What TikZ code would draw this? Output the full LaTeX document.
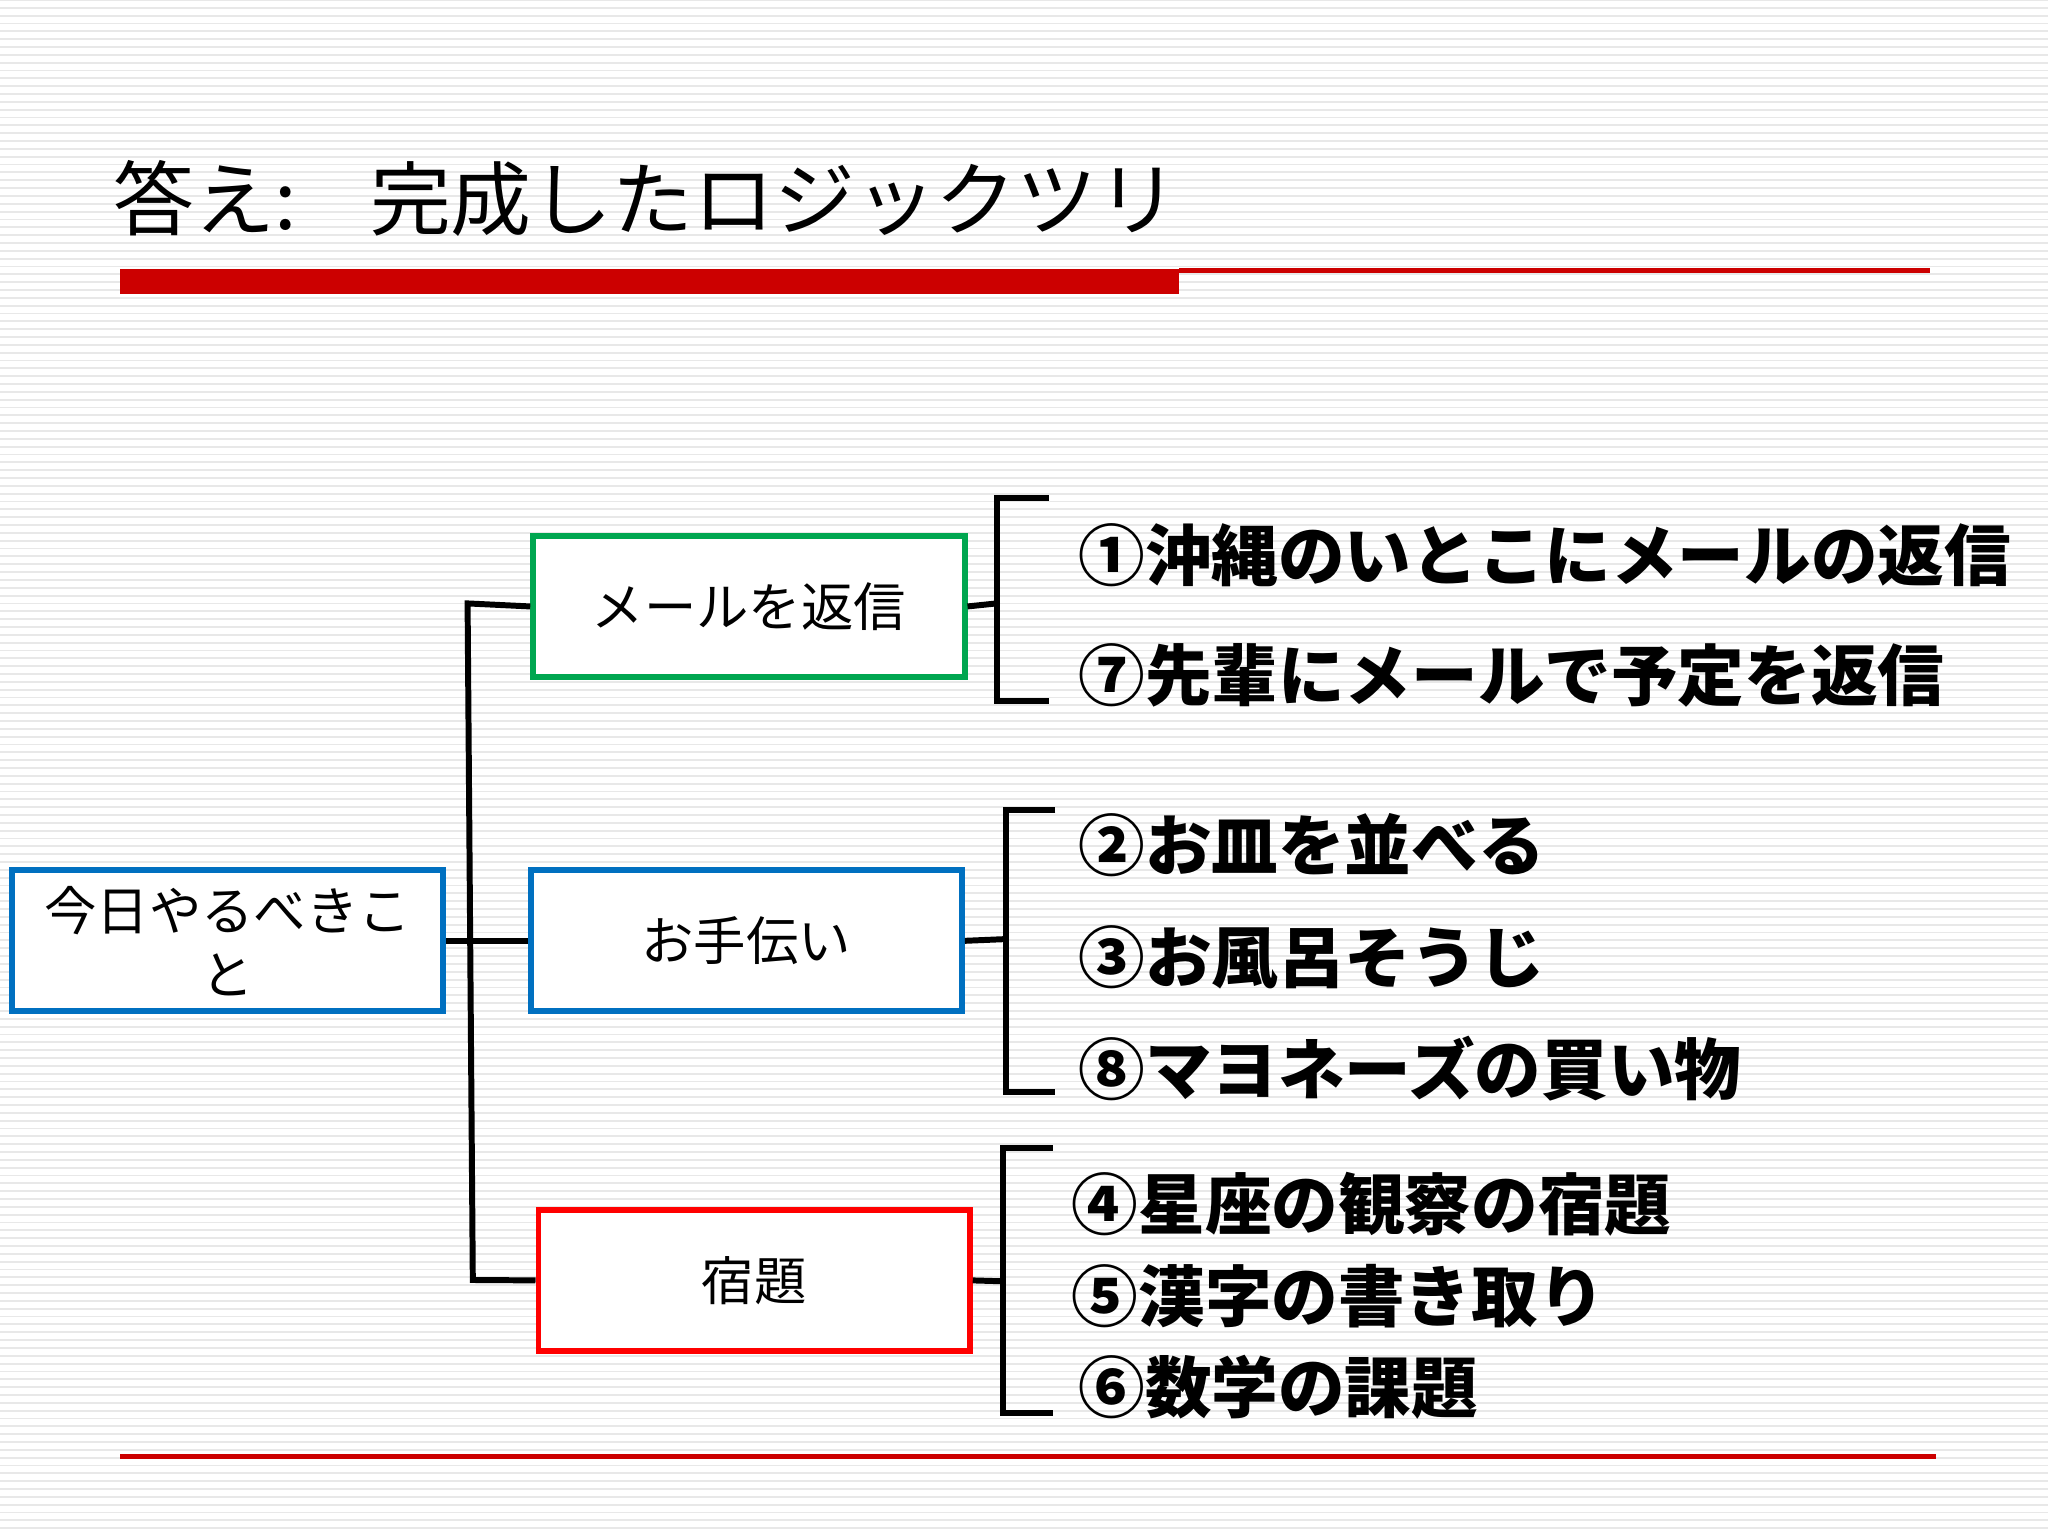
\documentclass[tikz,border=0pt]{standalone}
\usepackage{fontspec}
\newfontfamily\cjk{Noto Sans CJK JP}
\definecolor{bblue}{RGB}{0,112,192}
\definecolor{bgreen}{RGB}{0,166,80}
\begin{document}
\begin{tikzpicture}[x=0.01cm,y=-0.01cm,
 box/.style={draw,line width=1.3pt,minimum width=3.3cm,minimum height=1.08cm,anchor=north west,font=\cjk\fontsize{11.4}{14}\selectfont,align=center,fill=white},
 item/.style={anchor=west,font=\cjk\bfseries\fontsize{14.5}{16}\selectfont,inner sep=0pt},
 con/.style={line width=1.3pt,black}]
\useasboundingbox (0,0) rectangle (1568,1176);
\fill[white] (0,0) rectangle (1568,1176);
\foreach \i in {0,...,195}{\draw[gray!18,line width=0.4pt] (0,\i*6) -- (1568,\i*6);}
\node[anchor=west,font=\cjk\fontsize{17.6}{19}\selectfont,inner sep=0pt] (title) at (86,152) {答え:\hspace{0.9em}完成したロジックツリ};
\fill[red!80!black] (92,206) rectangle (903,225);
\fill[red!80!black] (903,205) rectangle (1478,209);
\fill[red!80!black] (92,1113) rectangle (1482,1117);
\node[box,draw=bblue] (root) at (7,664) {今日やるべきこ\\と};
\node[box,draw=bgreen] (b1) at (406,408) {メールを返信};
\node[box,draw=bblue] (b2) at (404,664) {お手伝い};
\node[box,draw=red] (b3) at (410,924) {宿題};
\coordinate (v1) at (358,462); \coordinate (v3) at (362,980);
\draw[con] (root.east) -- (b2.west);
\draw[con] (b1.west) -- (v1) -- (v3) -- (b3.west);
\draw[con] (b1.east) -- (763,462);
\draw[con] (803,381) -- (763,381) -- (763,537) -- (803,537);
\draw[con] (b2.east) -- (770,719);
\draw[con] (808,620) -- (770,620) -- (770,836) -- (808,836);
\draw[con] (b3.east) -- (768,981);
\draw[con] (806,879) -- (768,879) -- (768,1082) -- (806,1082);
\node[item] (i1) at (825,425) {①沖縄のいとこにメールの返信};
\node[item] (i7) at (825,517) {⑦先輩にメールで予定を返信};
\node[item] (i2) at (825,647) {②お皿を並べる};
\node[item] (i3) at (825,733) {③お風呂そうじ};
\node[item] (i8) at (825,818) {⑧マヨネーズの買い物};
\node[item] (i4) at (820,922) {④星座の観察の宿題};
\node[item] (i5) at (820,992) {⑤漢字の書き取り};
\node[item] (i6) at (825,1062) {⑥数学の課題};
\end{tikzpicture}
\end{document}
